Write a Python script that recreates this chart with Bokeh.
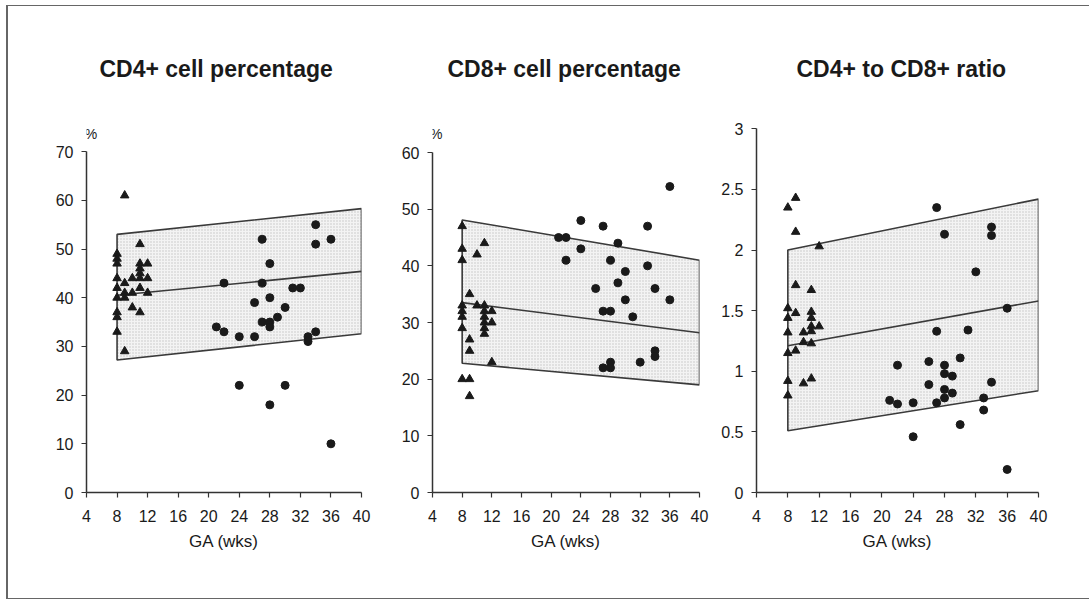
from bokeh.plotting import figure
from bokeh.layouts import row
from bokeh.models import Range1d, FixedTicker, Title, Label, NumeralTickFormatter
from bokeh.embed import file_html
from bokeh.resources import INLINE

# ---------------- data ----------------
ga_ticks = [4, 8, 12, 16, 20, 24, 28, 32, 36, 40]
band_ga = [8, 40]

# CD4+ cell percentage
tri_ga_cd4 = [9, 8, 8, 8, 8, 8, 8, 8, 8, 8, 9, 9, 9, 9, 10, 10, 10,
              11, 11, 11, 11, 11, 11, 11, 12, 12, 12]
tri_cd4 = [61, 49, 48, 47, 44, 42, 40, 37, 36, 33, 43, 41, 40, 29, 44, 41, 38,
           51, 47, 46, 45, 44, 42, 37, 47, 44, 41]
circ_ga_cd4 = [21, 22, 22, 24, 24, 26, 26, 27, 27, 27, 28, 28, 28, 28, 28, 29,
               30, 30, 31, 32, 33, 33, 34, 34, 34, 36, 36]
circ_cd4 = [34, 43, 33, 32, 22, 39, 32, 52, 43, 35, 47, 40, 35, 34, 18, 36,
            38, 22, 42, 42, 32, 31, 55, 51, 33, 52, 10]
cd4_upper = [53.0, 58.3]
cd4_mid = [40.5, 45.4]
cd4_lower = [27.2, 32.6]
cd4_ticks = [0, 10, 20, 30, 40, 50, 60, 70]

# CD8+ cell percentage
tri_ga_cd8 = [8, 8, 8, 8, 8, 8, 8, 8, 9, 9, 9, 9, 9, 10, 10,
              11, 11, 11, 11, 11, 11, 11, 12, 12, 12]
tri_cd8 = [47, 43, 41, 33, 32, 31, 29, 20, 35, 27, 25, 20, 17, 42, 33,
           44, 33, 32, 31, 30, 29, 28, 32, 30, 23]
circ_ga_cd8 = [21, 22, 22, 24, 24, 26, 27, 27, 27, 28, 28, 28, 28, 29, 29,
               30, 30, 31, 32, 33, 33, 34, 34, 34, 36, 36]
circ_cd8 = [45, 45, 41, 48, 43, 36, 47, 32, 22, 41, 32, 23, 22, 44, 37,
            39, 34, 31, 23, 47, 40, 36, 25, 24, 54, 34]
cd8_upper = [48.1, 41.0]
cd8_mid = [33.5, 28.2]
cd8_lower = [22.8, 19.0]
cd8_ticks = [0, 10, 20, 30, 40, 50, 60]

# CD4+ to CD8+ ratio
tri_ga_ratio = [8, 9, 9, 12, 9, 11, 8, 8, 8, 8, 8, 8, 9, 9, 10, 10, 10,
                11, 11, 11, 11, 11, 11, 12]
tri_ratio = [2.35, 2.43, 2.15, 2.03, 1.71, 1.67, 1.52, 1.44, 1.32, 1.15, 0.92, 0.80,
             1.48, 1.17, 1.32, 1.24, 0.90, 1.49, 1.44, 1.37, 1.33, 1.23, 0.94, 1.37]
circ_ga_ratio = [27, 28, 34, 34, 32, 36, 27, 31, 22, 26, 28, 30, 28, 29, 26, 28,
                 29, 28, 34, 21, 22, 24, 27, 33, 33, 30, 24, 36]
circ_ratio = [2.35, 2.13, 2.19, 2.12, 1.82, 1.52, 1.33, 1.34, 1.05, 1.08, 1.05, 1.11,
              0.98, 0.96, 0.89, 0.85, 0.82, 0.78, 0.91, 0.76, 0.73, 0.74, 0.74, 0.78,
              0.68, 0.56, 0.46, 0.19]
ratio_upper = [2.0, 2.42]
ratio_mid = [1.21, 1.58]
ratio_lower = [0.51, 0.84]
ratio_ticks = [0, 0.5, 1, 1.5, 2, 2.5, 3]

FONT = "Liberation Sans"
INK = "#1a1a1a"
H = 592
TOP = 112
BOTTOM = 106


def make_panel(title, title_offset, yview, ybound, yticks, width, left, right,
               tri_x, tri_y, circ_x, circ_y, upper, mid, lower, pct_xy=None, ratio=False):
    p = figure(width=width, height=H, output_backend="svg", toolbar_location=None,
               x_range=Range1d(4, 40), y_range=Range1d(0, yview),
               min_border_left=left, min_border_right=right,
               min_border_top=TOP, min_border_bottom=BOTTOM, title=None)
    p.outline_line_color = None
    p.xgrid.visible = False
    p.ygrid.visible = False
    p.background_fill_color = "white"
    p.border_fill_color = "white"

    # reference band
    px = [band_ga[0], band_ga[1], band_ga[1], band_ga[0]]
    py = [lower[0], lower[1], upper[1], upper[0]]
    p.patch(px, py, fill_color="#f3f3f3", line_color="#3a3a3a", line_width=1.6,
            hatch_pattern="dot", hatch_color="#a0a0a0", hatch_scale=3, hatch_weight=0.6,
            hatch_alpha=0.6)
    p.line(band_ga, mid, line_color="#3a3a3a", line_width=1.6)

    p.scatter(tri_x, tri_y, marker="triangle", size=8.5, fill_color=INK, line_color=INK)
    p.scatter(circ_x, circ_y, marker="circle", size=8, fill_color=INK, line_color=INK)

    for ax in (p.xaxis[0], p.yaxis[0]):
        ax.axis_line_color = "#333333"
        ax.axis_line_width = 1.5
        ax.major_tick_line_color = "#333333"
        ax.major_tick_line_width = 1.2
        ax.major_tick_out = 5
        ax.major_tick_in = 0
        ax.minor_tick_line_color = None
        ax.major_label_text_font = FONT
        ax.major_label_text_font_size = "16px"
        ax.major_label_text_color = INK

    p.xaxis[0].ticker = FixedTicker(ticks=ga_ticks)
    p.xaxis[0].major_label_standoff = 12
    p.xaxis[0].axis_label = "GA (wks)"
    p.xaxis[0].axis_label_text_font = FONT
    p.xaxis[0].axis_label_text_font_size = "17px"
    p.xaxis[0].axis_label_text_font_style = "normal"
    p.xaxis[0].axis_label_text_color = INK
    p.xaxis[0].axis_label_standoff = 7

    p.yaxis[0].ticker = FixedTicker(ticks=yticks)
    p.yaxis[0].bounds = (0, ybound)
    p.yaxis[0].major_label_standoff = 8
    if ratio:
        p.yaxis[0].formatter = NumeralTickFormatter(format="0.[0]")

    if pct_xy is not None:
        p.add_layout(Label(x=pct_xy[0], y=pct_xy[1], text="%", text_align="center",
                           text_baseline="middle", text_font=FONT, text_font_size="14px",
                           text_color=INK))
    p.add_layout(Title(text=title, align="left", offset=title_offset, standoff=74,
                       text_font=FONT, text_font_size="23px",
                       text_font_style="bold", text_color=INK), "above")
    return p


p1 = make_panel("CD4+ cell percentage", 13, 76.8, 70, cd4_ticks, 390, 78, 37,
                tri_ga_cd4, tri_cd4, circ_ga_cd4, circ_cd4, cd4_upper, cd4_mid, cd4_lower,
                pct_xy=(4.6, 73.7))
p2 = make_panel("CD8+ cell percentage", 15, 66.0, 60, cd8_ticks, 320, 30, 19,
                tri_ga_cd8, tri_cd8, circ_ga_cd8, circ_cd8, cd8_upper, cd8_mid, cd8_lower,
                pct_xy=(4.5, 63.35))
p3 = make_panel("CD4+ to CD8+ ratio", 40, 3.085, 3, ratio_ticks, 371, 37, 51,
                tri_ga_ratio, tri_ratio, circ_ga_ratio, circ_ratio,
                ratio_upper, ratio_mid, ratio_lower, ratio=True)

layout = row(p1, p2, p3, styles={"margin-left": "6px", "margin-top": "5px",
                                  "border-left": "2px solid #666666",
                                  "border-top": "1px solid #666666",
                                  "border-bottom": "1px solid #666666",
                                  "border-right": "none"})

open("out.html", "w").write(file_html(layout, INLINE))
